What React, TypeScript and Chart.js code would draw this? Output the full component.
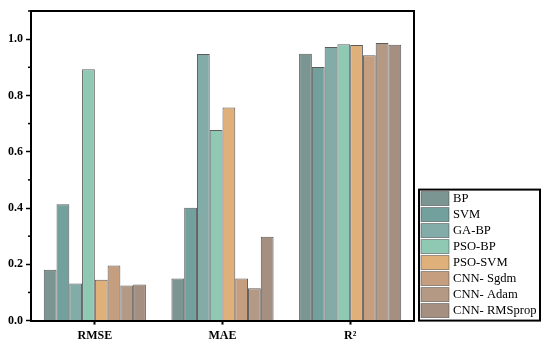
import React, { useEffect, useRef } from 'react';
import { Chart, registerables } from 'chart.js';

Chart.register(...registerables);

const categories = ['RMSE', 'MAE', 'R²'];
const seriesNames = ['BP', 'SVM', 'GA-BP', 'PSO-BP', 'PSO-SVM', 'CNN- Sgdm', 'CNN- Adam', 'CNN- RMSprop'];
const bpValues = [0.181, 0.150, 0.948];
const svmValues = [0.413, 0.401, 0.901];
const gaBpValues = [0.132, 0.947, 0.972];
const psoBpValues = [0.893, 0.677, 0.982];
const psoSvmValues = [0.145, 0.757, 0.979];
const cnnSgdmValues = [0.196, 0.150, 0.943];
const cnnAdamValues = [0.125, 0.115, 0.986];
const cnnRmspropValues = [0.128, 0.298, 0.980];
const seriesColors = ['#7b9692', '#72a09c', '#83aba8', '#8fc9b3', '#e0b07a', '#c59e80', '#b49a84', '#a48f80'];
const yTickStep = 0.1;
const yMax = 1.1;

const FONT = "'Liberation Serif', 'Times New Roman', serif";

const frameAndLegendPlugin = {
  id: 'frameAndLegend',
  afterDraw(chart: any) {
    const ctx = chart.ctx;
    const a = chart.chartArea;
    ctx.save();
    ctx.strokeStyle = '#000';
    ctx.lineWidth = 2;
    ctx.beginPath();
    ctx.moveTo(a.left, a.top);
    ctx.lineTo(a.right, a.top);
    ctx.lineTo(a.right, a.bottom);
    ctx.stroke();
    // minor ticks on y
    const ys = chart.scales.y;
    ctx.lineWidth = 1.5;
    ys.ticks.forEach((t: any, i: number) => {
      if (i % 2 === 1) {
        const py = ys.getPixelForValue(t.value);
        ctx.beginPath();
        ctx.moveTo(a.left - 3, py);
        ctx.lineTo(a.left, py);
        ctx.stroke();
      }
    });
    // legend
    const ds = chart.data.datasets;
    const rowH = 16;
    const boxL = a.right + 5;
    const boxR = boxL + 121;
    const boxB = a.bottom;
    const boxT = boxB - ds.length * rowH - 3;
    ctx.fillStyle = '#fff';
    ctx.fillRect(boxL, boxT, boxR - boxL, boxB - boxT);
    ctx.lineWidth = 2;
    ctx.strokeStyle = '#000';
    ctx.strokeRect(boxL, boxT, boxR - boxL, boxB - boxT);
    ctx.font = `12.6px ${FONT}`;
    ctx.textBaseline = 'middle';
    ctx.textAlign = 'left';
    ds.forEach((d: any, i: number) => {
      const y = boxT + 2 + i * rowH;
      ctx.fillStyle = d.backgroundColor;
      ctx.fillRect(boxL + 2, y, 28, 14);
      ctx.lineWidth = 0.8;
      ctx.strokeStyle = 'rgba(60,60,60,0.6)';
      ctx.strokeRect(boxL + 2, y, 28, 14);
      ctx.fillStyle = '#000';
      ctx.fillText(d.label, boxL + 34, y + 7.5);
    });
    ctx.restore();
  },
};

export default function App() {
  const ref = useRef<HTMLCanvasElement>(null);
  useEffect(() => {
    if (!ref.current) return;
    const allValues = [bpValues, svmValues, gaBpValues, psoBpValues, psoSvmValues, cnnSgdmValues, cnnAdamValues, cnnRmspropValues];
    const chart = new Chart(ref.current, {
      type: 'bar',
      data: {
        labels: categories,
        datasets: seriesNames.map((name, i) => ({
          label: name,
          data: allValues[i],
          backgroundColor: seriesColors[i],
          borderColor: 'rgba(50,50,50,0.8)',
          borderWidth: 1,
          categoryPercentage: 0.8,
          barPercentage: 1.0,
        })),
      },
      options: {
        animation: false,
        responsive: false,
        maintainAspectRatio: false,
        layout: { padding: { left: 5, top: 11, right: 136, bottom: 3 } },
        plugins: {
          tooltip: { enabled: false },
          legend: { display: false },
        },
        scales: {
          x: {
            grid: { display: true, drawOnChartArea: false, offset: false, tickLength: 4, tickColor: '#000', tickWidth: 2 },
            border: { display: true, color: '#000', width: 2 },
            ticks: { color: '#000', font: { family: FONT, size: 12, weight: 'bold' }, padding: 4 },
          },
          y: {
            min: 0,
            max: yMax,
            grid: {
              display: true,
              drawOnChartArea: false,
              tickLength: 5,
              tickWidth: 1.5,
              tickColor: (c: any) => (c.index % 2 === 1 ? 'rgba(0,0,0,0)' : '#000'),
            },
            border: { display: true, color: '#000', width: 2 },
            ticks: {
              stepSize: yTickStep,
              autoSkip: false,
              padding: 3,
              color: '#000',
              font: { family: FONT, size: 12, weight: 'bold' },
              callback: (v: any, i: number) => (i % 2 === 0 ? Number(v).toFixed(1) : ''),
            },
          },
        },
      },
      plugins: [frameAndLegendPlugin],
    } as any);
    return () => chart.destroy();
  }, []);
  return (
    <div style={{ position: 'fixed', left: 0, top: 0, width: 550, height: 350, background: '#fff' }}>
      <canvas ref={ref} width={550} height={350} style={{ width: 550, height: 350 }} />
    </div>
  );
}
